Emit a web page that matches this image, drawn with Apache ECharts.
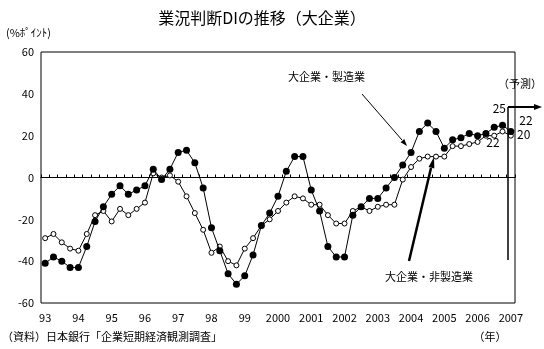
<!DOCTYPE html>
<html>
<head>
<meta charset="utf-8">
<script src="https://cdn.jsdelivr.net/npm/echarts@6/dist/echarts.min.js"></script>
<style>
html,body{margin:0;padding:0;background:#fff;}
#chart{width:544px;height:349px;}
</style>
</head>
<body>
<div id="chart"></div>
<script>
// Quarterly categories 1993Q1 .. 2007Q1 (2007Q1 = forecast)
var yearLabels = ['93','94','95','96','97','98','99','2000','2001','2002','2003','2004','2005','2006','2007'];
var categories = [];
for (var y = 0; y < yearLabels.length; y++) {
  for (var q = 1; q <= 4; q++) {
    if (y === yearLabels.length - 1 && q > 1) break;
    categories.push(yearLabels[y] + 'Q' + q);
  }
}
// 大企業・製造業
var manufacturing = [
  -41, -38, -40, -43,
  -43, -33, -21, -14,
   -8,  -4,  -8,  -6,
   -4,   4,  -1,   4,
   12,  13,   7,  -5,
  -24, -35, -46, -51,
  -47, -37, -23, -17,
   -9,   3,  10,  10,
   -6, -16, -33, -38,
  -38, -18, -14, -10,
  -10,  -5,   0,   6,
   12,  22,  26,  22,
   14,  18,  19,  21,
   20,  21,  24,  25,
   22
];
// 大企業・非製造業
var nonManufacturing = [
  -29, -27, -31, -34,
  -35, -27, -18, -16,
  -21, -15, -18, -15,
  -12,   2,   0,   1,
   -2,  -9, -17, -25,
  -36, -33, -40, -42,
  -34, -29, -23, -20,
  -16, -12,  -9, -10,
  -13, -13, -18, -22,
  -22, -16, -14, -16,
  -14, -13, -13,  -1,
    5,   9,  10,  10,
   10,  15,  15,  16,
   17,  20,  20,  22,
   20
];
var yTicks = [-60, -40, -20, 0, 20, 40, 60];

var FONT = '"Noto Sans CJK JP", "DejaVu Sans", sans-serif';

function arrowHead(tip, from, len, halfW) {
  var dx = tip[0] - from[0], dy = tip[1] - from[1];
  var d = Math.sqrt(dx * dx + dy * dy);
  var ux = dx / d, uy = dy / d;
  var bx = tip[0] - ux * len, by = tip[1] - uy * len;
  return {
    type: 'polygon',
    shape: { points: [tip, [bx - uy * halfW, by + ux * halfW], [bx + uy * halfW, by - ux * halfW]] },
    style: { fill: '#000' },
    z: 100
  };
}
function txt(x, y, s, size, align) {
  return {
    type: 'text', x: x, y: y, z: 100,
    style: { text: s, fill: '#000', font: size + 'px ' + FONT, textAlign: align || 'left', textVerticalAlign: 'middle' }
  };
}
function seg(p1, p2, w) {
  return { type: 'line', z: 100, shape: { x1: p1[0], y1: p1[1], x2: p2[0], y2: p2[1] }, style: { stroke: '#000', lineWidth: w } };
}

var chart = echarts.init(document.getElementById('chart'), null, { renderer: 'canvas' });
chart.setOption({
  animation: false,
  backgroundColor: '#fff',
  textStyle: { fontFamily: FONT },
  grid: { left: 41, right: 29, top: 52, bottom: 46, show: true, borderColor: '#000', borderWidth: 1, backgroundColor: 'transparent' },
  xAxis: [
    {
      type: 'category', data: categories, position: 'bottom', boundaryGap: true,
      axisLine: { show: false, onZero: false },
      axisTick: { show: false },
      splitLine: { show: false },
      axisLabel: {
        interval: function (i) { return i % 4 === 0; },
        formatter: function (v) { return v.split('Q')[0]; },
        color: '#000', fontSize: 11, margin: 9, fontFamily: FONT
      }
    },
    {
      type: 'category', data: categories, position: 'top', boundaryGap: true,
      axisLine: { show: true, onZero: true, lineStyle: { color: '#000', width: 1 } },
      axisTick: { show: true, interval: 0, length: 3, inside: false, lineStyle: { color: '#000' } },
      axisLabel: { show: false },
      splitLine: { show: false }
    }
  ],
  yAxis: {
    type: 'value', min: yTicks[0], max: yTicks[yTicks.length - 1], interval: 20,
    axisLine: { show: false }, axisTick: { show: false }, splitLine: { show: false },
    axisLabel: { color: '#000', fontSize: 11, margin: 7, fontFamily: FONT }
  },
  series: [
    {
      name: '大企業・非製造業', type: 'line', xAxisIndex: 0, data: nonManufacturing,
      symbol: 'circle', symbolSize: 5, showAllSymbol: true,
      lineStyle: { color: '#000', width: 1 },
      itemStyle: { color: '#fff', borderColor: '#000', borderWidth: 1 },
      z: 3
    },
    {
      name: '大企業・製造業', type: 'line', xAxisIndex: 0, data: manufacturing,
      symbol: 'circle', symbolSize: 7, showAllSymbol: true,
      lineStyle: { color: '#000', width: 1 },
      itemStyle: { color: '#000' },
      z: 4
    }
  ],
  graphic: [
    txt(262, 18, '業況判断DIの推移（大企業）', 16, 'center'),
    txt(6, 33, '(%ﾎﾟｲﾝﾄ)', 11),
    txt(2, 337, '（資料）日本銀行「企業短期経済観測調査」', 11),
    txt(490, 337, '（年）', 11, 'center'),
    txt(288, 77, '大企業・製造業', 11),
    txt(385, 277, '大企業・非製造業', 11),
    txt(520, 84, '（予測）', 11, 'center'),
    txt(506, 108, '25', 12, 'right'),
    txt(526, 120, '22', 12, 'center'),
    txt(517, 134, '20', 12, 'left'),
    txt(493, 142, '22', 12, 'center'),
    seg([362, 94], [402, 140], 1),
    arrowHead([407, 146], [362, 94], 7, 2.5),
    seg([409, 261], [431, 168], 2.5),
    arrowHead([434, 157], [409, 261], 11, 3),
    seg([508, 107], [508, 260], 1.5),
    seg([508, 107], [535, 107], 2),
    arrowHead([542, 107], [508, 107], 8, 3)
  ]
});
</script>
</body>
</html>
